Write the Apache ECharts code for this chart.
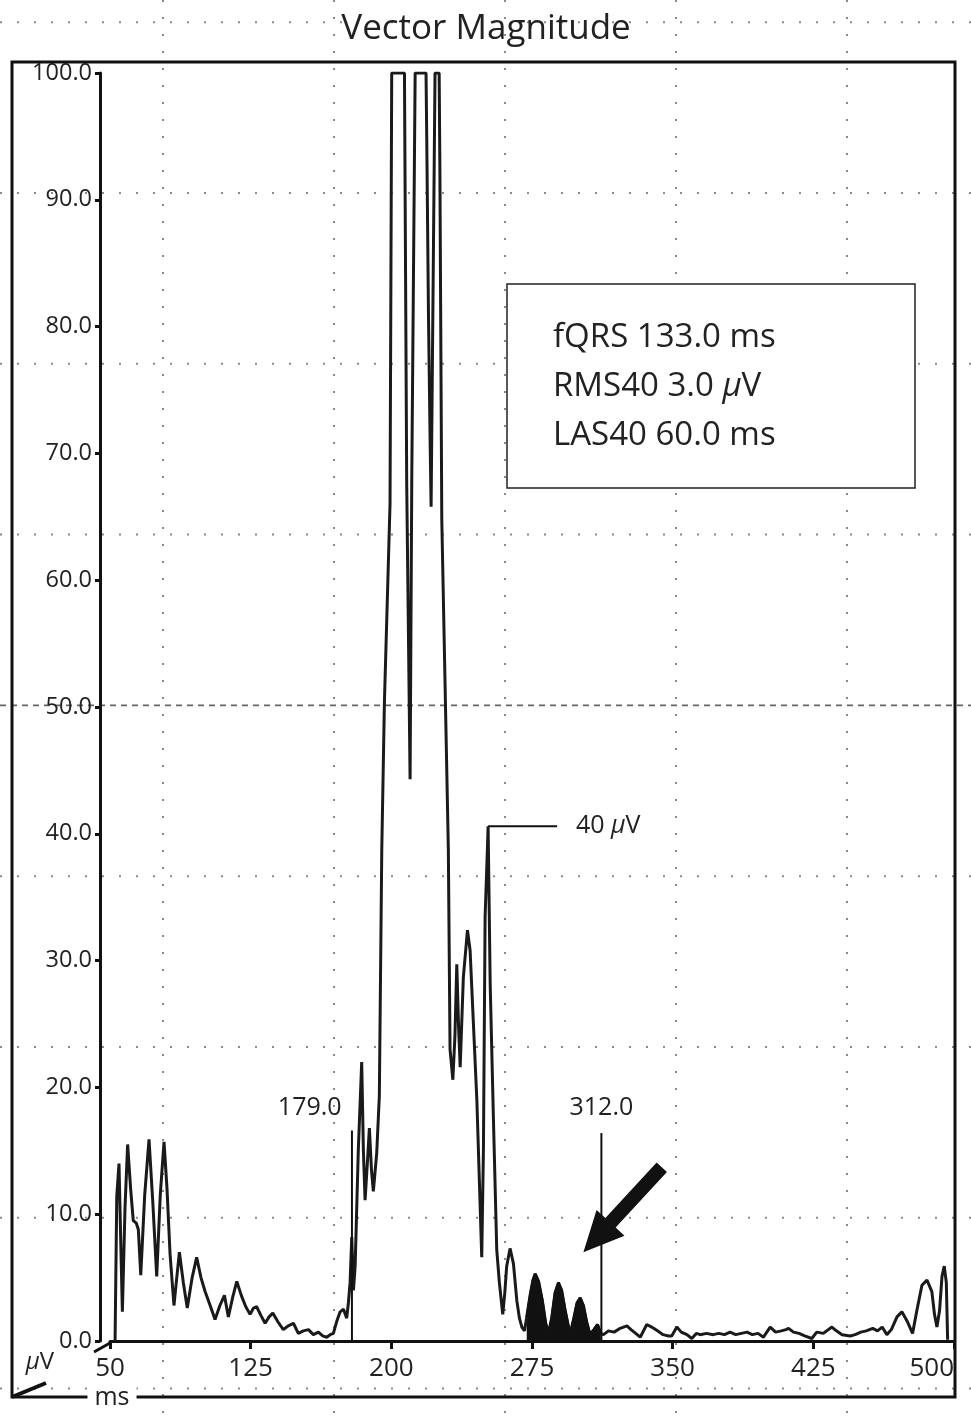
<!DOCTYPE html>
<html><head><meta charset="utf-8">
<script src="https://cdn.jsdelivr.net/npm/echarts@6/dist/echarts.min.js"></script>
<style>html,body{margin:0;padding:0;background:#fff}#c{width:971px;height:1421px}</style>
</head><body><div id="c"></div>
<script>
// ---------- data ----------
const chartTitle = 'Vector Magnitude';
const xTicks = [50, 125, 200, 275, 350, 425, 500];
const yTicks = [0, 10, 20, 30, 40, 50, 60, 70, 80, 90, 100];
const signalMs = [
 52.7,53.6,54.8,55.7,56.6,58.0,59.4,61.0,62.4,64.0,65.1,66.4,68.5,70.8,72.8,74.9,76.8,78.8,80.4,82.0,
 84.1,85.6,87.0,89.1,91.2,93.8,96.2,98.5,100.7,103.4,106.0,108.6,111.0,113.1,115.5,117.6,120.0,122.4,124.7,126.5,
 128.2,130.5,132.7,134.8,136.8,139.6,142.4,145.1,147.8,150.4,153.1,155.8,158.4,161.1,163.4,165.6,167.4,169.1,171.0,172.7,
 174.5,176.2,177.1,178.0,178.9,179.8,180.7,182.4,184.2,185.1,186.0,187.2,188.3,189.4,190.4,192.2,193.6,194.9,196.3,199.3,
 200.2,207.0,208.2,210.0,210.9,212.7,218.5,218.9,219.8,220.7,221.2,223.3,225.5,225.9,226.9,229.6,230.4,231.3,232.8,233.9,
 234.9,235.8,236.7,238.4,240.6,242.0,245.6,248.2,249.1,250.0,251.2,251.6,252.7,254.4,256.2,257.6,259.4,260.5,261.5,263.3,
 265.1,266.9,268.3,269.6,271.0,272.2,274.0,275.5,276.7,278.5,280.5,282.3,283.8,285.5,287.3,289.1,290.8,292.7,295.3,297.3,
 299.0,300.7,302.4,304.3,306.0,308.0,309.9,311.7,313.1,315.8,318.8,322.0,325.6,327.8,330.3,332.7,336.2,338.8,341.9,344.9,
 347.8,349.5,352.2,354.6,357.6,360.2,362.6,364.7,368.1,371.6,374.6,377.6,380.6,383.6,386.6,389.6,392.5,395.5,398.4,402.0,
 404.9,407.9,410.4,411.8,414.4,417.4,420.4,424.2,426.8,430.3,434.9,437.3,440.3,444.7,447.3,450.3,453.2,456.7,459.2,461.7,
 464.2,466.6,469.6,472.2,474.9,477.9,480.2,482.9,485.6,488.2,489.6,490.9,492.3,493.6,494.8,495.9,496.6
];
const signalUv = [
 0.0,11.4,14.0,8.0,2.3,10.5,15.5,12.0,9.5,9.3,8.8,5.2,11.5,15.9,11.0,5.1,11.5,15.7,12.0,6.9,
 2.8,5.0,7.0,4.6,2.6,5.0,6.6,5.0,3.9,2.8,1.7,2.8,3.6,1.9,3.5,4.7,3.6,2.7,2.1,2.6,
 2.7,2.0,1.4,1.9,2.2,1.5,0.9,1.2,1.4,0.6,0.8,0.9,0.5,0.7,0.4,0.3,0.5,0.6,1.6,2.3,
 2.5,1.8,3.0,4.6,8.2,4.0,5.9,15.1,22.0,15.0,11.1,14.0,16.8,13.5,11.8,14.8,19.3,38.7,50.3,66.0,
 100,100,67.6,44.3,68.0,100,100,94.6,80.9,70.8,65.8,100,100,92.2,64.8,44.7,38.7,23.0,20.6,24.0,
 29.7,25.0,21.6,28.7,32.4,30.8,19.0,6.6,15.1,33.5,38.7,40.6,28.2,17.7,7.2,4.6,2.1,3.8,5.9,7.3,
 6.1,3.2,1.8,1.1,0.8,1.9,3.6,4.8,5.3,4.7,3.2,1.4,0.6,1.8,3.8,4.6,4.0,2.4,0.5,1.8,
 3.0,3.4,2.8,1.4,0.5,0.9,1.3,0.6,0.5,0.8,0.7,1.0,1.2,0.9,0.6,0.3,1.3,1.1,0.8,0.5,
 0.4,0.4,1.1,0.7,0.5,0.2,0.6,0.5,0.6,0.5,0.6,0.5,0.7,0.5,0.6,0.7,0.5,0.6,0.3,1.1,
 0.7,0.8,0.9,1.0,0.7,0.6,0.4,0.2,0.7,0.6,1.1,0.8,0.5,0.4,0.5,0.7,0.8,1.0,0.8,1.1,
 0.5,0.9,1.9,2.3,1.6,0.6,2.4,4.4,4.8,3.9,2.1,1.1,2.4,5.1,5.9,4.6,0.1
];
const lasFill = [272.2, 311.7];          // filled late-potential interval (ms)
const qrsOnset = 179.0, qrsOffset = 312.0;
const peakMarker = { ms: 251.6, uv: 40.6, label: '40 ' };
const statLines = [
  ['fQRS 133.0 ms', ''],
  ['RMS40 3.0 ', 'µ', 'V'],
  ['LAS40 60.0 ms', '']
];

// ---------- build ----------
const FONT = '"Open Sans","Noto Sans",sans-serif';
const lineData = signalMs.map((m, i) => [m, signalUv[i]]);
const fillData = lineData.filter(p => p[0] >= lasFill[0] && p[0] <= lasFill[1]);

const chart = echarts.init(document.getElementById('c'), null, { renderer: 'canvas' });
chart.setOption({
  animation: false,
  backgroundColor: '#fff',
  title: {
    text: chartTitle, left: 481, top: 7, textAlign: 'center',
    textStyle: { fontFamily: FONT, fontSize: 35, fontWeight: 'normal', color: '#222' }
  },
  grid: { left: 110, right: 17, top: 73, bottom: 80, containLabel: false },
  xAxis: {
    type: 'value', min: 50, max: 500, offset: 2,
    axisLine: { lineStyle: { color: '#111', width: 3 } },
    axisTick: { customValues: xTicks, length: 8, inside: false, lineStyle: { color: '#111', width: 3 } },
    axisLabel: { customValues: xTicks, fontFamily: FONT, fontSize: 26, color: '#222', margin: 13,
      alignMinLabel: 'center', alignMaxLabel: 'right' },
    splitLine: { show: false }
  },
  yAxis: {
    type: 'value', min: 0, max: 100, interval: 10, offset: 10,
    axisLine: { show: true, lineStyle: { color: '#111', width: 3 } },
    axisTick: { show: true, length: 5, lineStyle: { color: '#111', width: 3 } },
    axisLabel: { fontFamily: FONT, fontSize: 23.5, color: '#222', margin: 8,
      formatter: v => v.toFixed(1) },
    splitLine: { show: false }
  },
  series: [
    {
      type: 'line', data: lineData, showSymbol: false, symbol: 'none',
      lineStyle: { color: '#1a1a1a', width: 3 }, z: 3
    },
    {
      type: 'line', data: fillData, showSymbol: false, symbol: 'none',
      lineStyle: { color: '#111', width: 2.5 },
      areaStyle: { color: '#111', opacity: 1, origin: 'start' }, z: 3
    }
  ]
});

// ---------- decoration & annotations ----------
const P = (x, y) => chart.convertToPixel({ gridIndex: 0 }, [x, y]);
const g = [];
// paper grid (background dotted lines)
const vx = [163, 334, 505, 676, 847];
const hy = [22.2, 193, 363.8, 534.6, 705.4, 876.2, 1047, 1217.8, 1388.6];
vx.forEach(x => g.push({ type: 'line', z: 0, silent: true,
  shape: { x1: x, y1: 0, x2: x, y2: 1421 },
  style: { stroke: '#8a8a8a', lineWidth: 2, lineDash: [2, 15] } }));
hy.forEach((y, i) => g.push({ type: 'line', z: 0, silent: true,
  shape: { x1: 0, y1: y, x2: 971, y2: y },
  style: i === 4 ? { stroke: '#666', lineWidth: 1.6, lineDash: [6, 5] }
                 : { stroke: '#8a8a8a', lineWidth: 2, lineDash: [2, 15] } }));
// outer frame
g.push({ type: 'rect', z: 1, shape: { x: 12, y: 62, width: 943, height: 1335 },
  style: { fill: 'none', stroke: '#111', lineWidth: 3 } });
// axis corner strokes
g.push({ type: 'line', z: 2, shape: { x1: 12, y1: 1397, x2: 46, y2: 1383 },
  style: { stroke: '#111', lineWidth: 4 } });
g.push({ type: 'line', z: 2, shape: { x1: 94, y1: 1352, x2: 110, y2: 1343 },
  style: { stroke: '#111', lineWidth: 3 } });
// unit labels
g.push({ type: 'text', z: 5, x: 40, y: 1362, style: {
  text: '{i|µ}{n|V}', align: 'center', verticalAlign: 'middle', fill: '#222',
  rich: { i: { fontFamily: FONT, fontSize: 24, fontStyle: 'italic', fill: '#222' },
          n: { fontFamily: FONT, fontSize: 24, fill: '#222' } } } });
g.push({ type: 'text', z: 5, x: 112, y: 1398, style: {
  text: 'ms', align: 'center', verticalAlign: 'middle', fill: '#222',
  font: '25px ' + FONT, backgroundColor: '#fff', padding: [0, 7] } });
// stats box
g.push({ type: 'rect', z: 4, shape: { x: 507, y: 284, width: 408, height: 204 },
  style: { fill: '#fff', stroke: '#222', lineWidth: 1.5 } });
statLines.forEach((parts, i) => {
  const txt = parts.length === 3 ? '{n|' + parts[0] + '}{i|' + parts[1] + '}{n|' + parts[2] + '}' : '{n|' + parts[0] + '}';
  g.push({ type: 'text', z: 6, x: 553, y: 338 + i * 49, style: {
    text: txt, align: 'left', verticalAlign: 'middle', fill: '#222',
    rich: { n: { fontFamily: FONT, fontSize: 33, fill: '#222' },
            i: { fontFamily: FONT, fontSize: 33, fontStyle: 'italic', fill: '#222' } } } });
});
// QRS onset/offset markers
[[qrsOnset, 16.6, 156.5], [qrsOffset, 16.4, qrsOffset]].forEach(([ms, top, lx]) => {
  const a = P(ms, 0), b = P(ms, top), t = P(lx, 18.4);
  g.push({ type: 'line', z: 5, shape: { x1: a[0], y1: a[1], x2: b[0], y2: b[1] },
    style: { stroke: '#111', lineWidth: 2 } });
  g.push({ type: 'text', z: 6, x: t[0], y: t[1], style: {
    text: ms.toFixed(1), align: 'center', verticalAlign: 'middle', fill: '#222', font: '25px ' + FONT } });
});
// 40 µV marker
{
  const a = P(peakMarker.ms, peakMarker.uv), b = P(288.4, peakMarker.uv), t = P(298.4, peakMarker.uv);
  g.push({ type: 'line', z: 5, shape: { x1: a[0], y1: a[1], x2: b[0], y2: b[1] },
    style: { stroke: '#111', lineWidth: 2 } });
  g.push({ type: 'text', z: 6, x: t[0], y: t[1], style: {
    text: '{n|' + peakMarker.label + '}{i|µ}{n|V}', align: 'left', verticalAlign: 'middle', fill: '#222',
    rich: { n: { fontFamily: FONT, fontSize: 25, fill: '#222' },
            i: { fontFamily: FONT, fontSize: 25, fontStyle: 'italic', fill: '#222' } } } });
}
// arrow pointing to late potentials
{
  const S = P(344.2, 13.7), T = P(302.4, 7.0);
  const dx = T[0] - S[0], dy = T[1] - S[1], L = Math.hypot(dx, dy);
  const ux = dx / L, uy = dy / L, nx = -uy, ny = ux;
  const hl = 40, hw = 19, sw = 7;
  const B = [T[0] - ux * hl, T[1] - uy * hl];
  const pts = [
    [S[0] + nx * sw, S[1] + ny * sw], [B[0] + nx * sw, B[1] + ny * sw], [B[0] + nx * hw, B[1] + ny * hw],
    [T[0], T[1]],
    [B[0] - nx * hw, B[1] - ny * hw], [B[0] - nx * sw, B[1] - ny * sw], [S[0] - nx * sw, S[1] - ny * sw]
  ];
  g.push({ type: 'polygon', z: 6, shape: { points: pts }, style: { fill: '#111' } });
}
chart.setOption({ graphic: g });
</script></body></html>
